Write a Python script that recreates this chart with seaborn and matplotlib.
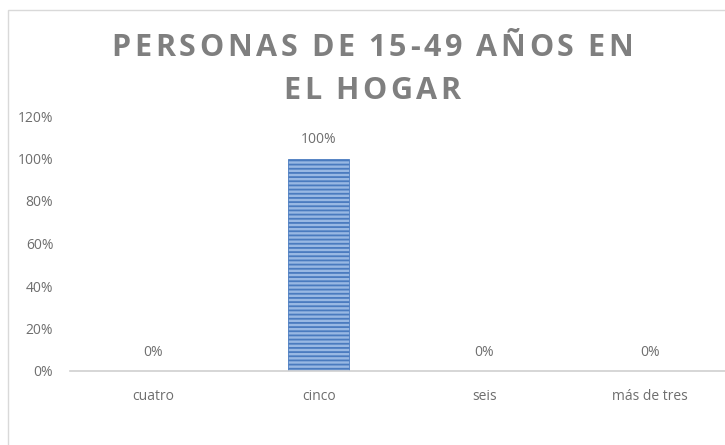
import matplotlib
matplotlib.use("Agg")
import matplotlib.pyplot as plt
import seaborn as sns
import pandas as pd
from matplotlib.patches import Rectangle
from matplotlib.ticker import FuncFormatter

# data
categorias = ["cuatro", "cinco", "seis", "más de tres"]
porcentajes = [0, 100, 0, 0]
titulo = ["PERSONAS DE 15-49 AÑOS EN", "EL HOGAR"]

df = pd.DataFrame({"cat": categorias, "pct": porcentajes})

sns.set_style("white")
plt.rcParams["font.family"] = ["Open Sans", "DejaVu Sans"]
plt.rcParams["hatch.color"] = "#4a7bbf"
plt.rcParams["hatch.linewidth"] = 1.3

fig = plt.figure(figsize=(7.25, 4.45), dpi=100)
W, H = 725, 445

# axes extends past the right edge, like the cropped source
ax = fig.add_axes([70 / W, (H - 371) / H, 663 / W, 255 / H])

sns.barplot(data=df, x="cat", y="pct", ax=ax, width=0.37,
            color="#98b8e3", saturation=1, edgecolor="#4a7bbf", linewidth=0.6)
for p in ax.patches:
    p.set_hatch("----")
    p.set_edgecolor("#4a7bbf")

ax.set_ylim(0, 120)
ax.set_yticks(range(0, 121, 20))
ax.yaxis.set_major_formatter(FuncFormatter(lambda v, _: f"{int(v)}%"))
ax.set_xlabel("")
ax.set_ylabel("")
for s in ["top", "right", "left"]:
    ax.spines[s].set_visible(False)
ax.spines["bottom"].set_color("#d0d0d0")
ax.spines["bottom"].set_linewidth(1.2)
ax.tick_params(axis="both", length=0, colors="#6e6e6e", labelsize=10)
ax.tick_params(axis="y", pad=12)
ax.tick_params(axis="x", pad=13)

for i, v in enumerate(porcentajes):
    ax.annotate(f"{v}%", (i, v), xytext=(0, 8), textcoords="offset points",
                ha="center", va="bottom", fontsize=10, color="#6e6e6e")

# title with letter spacing: place each char by hand
fig.canvas.draw()
r = fig.canvas.get_renderer()
kw = dict(fontsize=22, fontweight="bold", color="#7f7f7f")


def anchos_de(linea):
    out = []
    for ch in linea:
        t = fig.text(0, 0, ch if ch != " " else "n", **kw)
        w = t.get_window_extent(r).width
        if ch == " ":
            w *= 0.3
        out.append(w)
        t.remove()
    return out


a0 = anchos_de(titulo[0])
extra = (522 - sum(a0)) / (len(titulo[0]) - 1)
for linea, yc in zip(titulo, [48, 91]):
    anchos = anchos_de(linea)
    total = sum(anchos) + extra * (len(linea) - 1)
    x = 372 - total / 2
    for ch, w in zip(linea, anchos):
        if ch != " ":
            fig.text(x / W, 1 - yc / H, ch, ha="left", va="center", **kw)
        x += w + extra

# chart border
fig.patches.append(Rectangle((8 / W, -0.1), 1.2, 1 - 10 / H + 0.1,
                             transform=fig.transFigure, fill=False,
                             edgecolor="#d9d9d9", linewidth=1))

fig.savefig("out.png", dpi=100)
